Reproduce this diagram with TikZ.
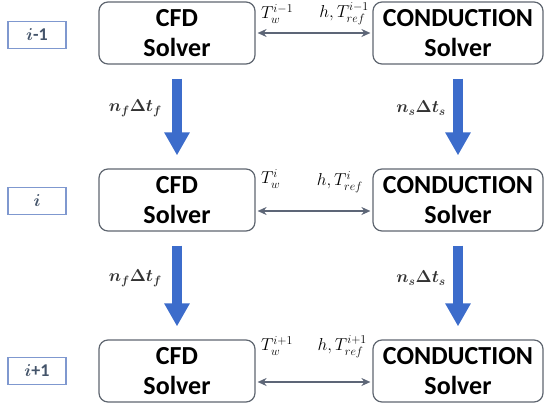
\documentclass[tikz,border=0pt]{standalone}
\usepackage{fontspec}
\setmainfont{Carlito}
\usepackage{amsmath}
\usepackage{bm}
\usetikzlibrary{arrows.meta}
\definecolor{boxgray}{HTML}{5F6670}
\definecolor{flowblue}{HTML}{3C6CCB}
\definecolor{stepblue}{HTML}{7F98CF}
\definecolor{steptext}{HTML}{44546A}
\definecolor{linkgray}{HTML}{5D6677}
\begin{document}
\begin{tikzpicture}[x=1pt,y=-1pt,
        solver/.style={draw=boxgray, line width=1.2pt, rounded corners=9pt, minimum height=62pt, align=center, font=\fontsize{26}{30}\selectfont\bfseries},
        stepbox/.style={draw=stepblue, line width=1.2pt, minimum width=58pt, minimum height=27pt, text=steptext, font=\fontsize{18}{20}\selectfont},
        flow/.style={draw=flowblue, line width=9.5pt, -{Triangle[width=24pt,length=23pt]}, shorten <=14pt, shorten >=13pt},
        link/.style={draw=linkgray, line width=1.6pt, {Stealth[length=9pt,width=8pt]}-{Stealth[length=9pt,width=8pt]}, shorten <=2pt, shorten >=2pt},
        tlabel/.style={font=\fontsize{18}{20}\selectfont, inner sep=0pt},
        dlabel/.style={font=\fontsize{18}{20}\selectfont, text=black!80, inner sep=0pt}]
        \useasboundingbox (0,0) rectangle (544,407);
        % time levels
        \node[stepbox] (step1) at (37,35) {$\bm{i}$\textbf{-1}};
        \node[stepbox] (step2) at (37,201) {$\bm{i}$};
        \node[stepbox] (step3) at (37,371) {$\bm{i}$\textbf{+1}};
        % fluid side
        \node[solver, minimum width=156pt] (cfd1) at (177,33) {CFD\\Solver};
        \node[solver, minimum width=156pt] (cfd2) at (177,200) {CFD\\Solver};
        \node[solver, minimum width=156pt] (cfd3) at (177,371) {CFD\\Solver};
        % solid side
        \node[solver, minimum width=170pt] (cond1) at (458,33) {CONDUCTION\\Solver};
        \node[solver, minimum width=170pt] (cond2) at (458,200) {CONDUCTION\\Solver};
        \node[solver, minimum width=170pt] (cond3) at (458,371) {CONDUCTION\\Solver};
        % coupling
        \draw[link] (cfd1.east) -- (cond1.west);
        \draw[link] ([yshift=-11pt]cfd2.east) -- ([yshift=-11pt]cond2.west);
        \draw[link] ([yshift=-11pt]cfd3.east) -- ([yshift=-11pt]cond3.west);
        \node[tlabel, anchor=west] (tw1) at (261,14) {$T_w^{i-1}$};
        \node[tlabel, anchor=east] (tr1) at (369,14) {$h,T_{ref}^{i-1}$};
        \node[tlabel, anchor=west] (tw2) at (261,179) {$T_w^{i}$};
        \node[tlabel, anchor=east] (tr2) at (363,182) {$h,T_{ref}^{i}$};
        \node[tlabel, anchor=west] (tw3) at (261,346) {$T_w^{i+1}$};
        \node[tlabel, anchor=east] (tr3) at (367,347) {$h,T_{ref}^{i+1}$};
        % marching
        \draw[flow] (cfd1.south) -- (cfd2.north);
        \draw[flow] (cfd2.south) -- (cfd3.north);
        \draw[flow] (cond1.south) -- (cond2.north);
        \draw[flow] (cond2.south) -- (cond3.north);
        \node[dlabel, anchor=east] (nf1) at (162,108) {$\bm{n_f\Delta t_f}$};
        \node[dlabel, anchor=east] (nf2) at (162,278) {$\bm{n_f\Delta t_f}$};
        \node[dlabel, anchor=east] (ns1) at (446,108) {$\bm{n_s\Delta t_s}$};
        \node[dlabel, anchor=east] (ns2) at (446,278) {$\bm{n_s\Delta t_s}$};
\end{tikzpicture}
\end{document}
